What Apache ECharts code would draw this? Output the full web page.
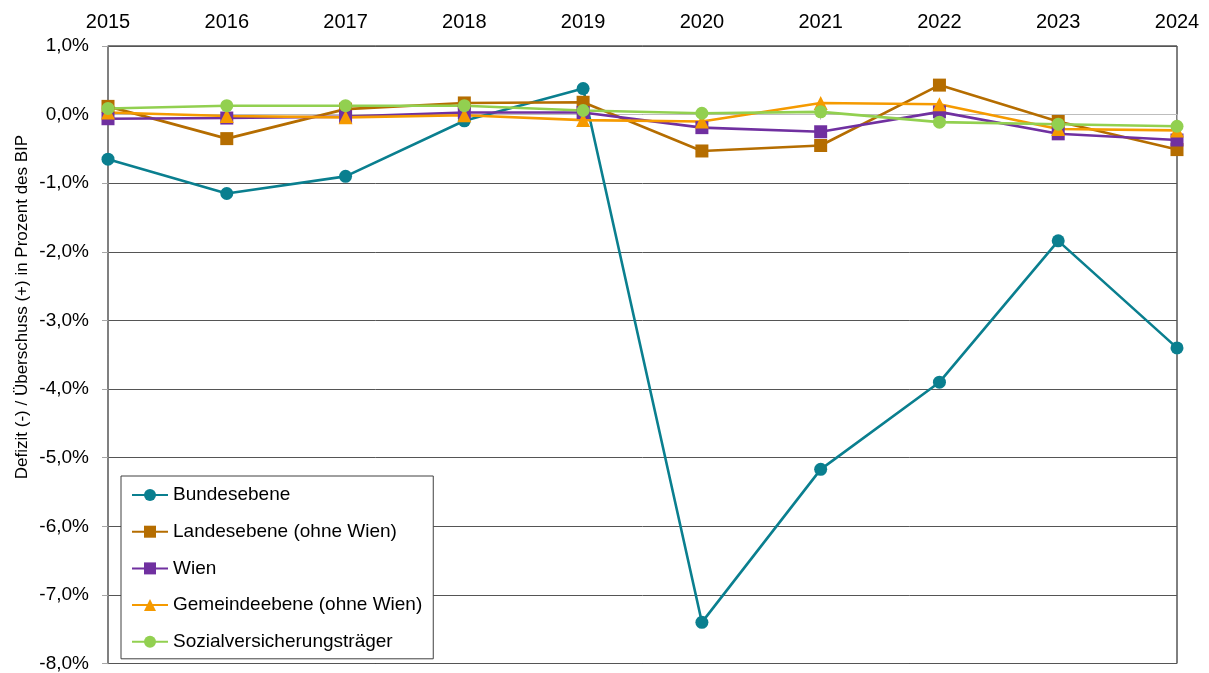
<!DOCTYPE html>
<html>
<head>
<meta charset="utf-8">
<title>Finanzierungssaldo nach Sektoren</title>
<script src="https://cdn.jsdelivr.net/npm/echarts@6/dist/echarts.min.js"></script>
<style>
  html, body { margin: 0; padding: 0; background: #ffffff; }
  #chart { width: 1209px; height: 673px; }
</style>
</head>
<body>
<div id="chart"></div>
<script>
// Jahre (Kategorien)
const years = ['2015', '2016', '2017', '2018', '2019', '2020', '2021', '2022', '2023', '2024'];

// Finanzierungssaldo in % des BIP je Teilsektor
const bundesebene   = [-0.65, -1.15, -0.90, -0.09, 0.38, -7.40, -5.17, -3.90, -1.84, -3.40];
const landesebene   = [0.12, -0.35, 0.08, 0.17, 0.18, -0.53, -0.45, 0.43, -0.10, -0.51];
const wien          = [-0.06, -0.05, -0.03, 0.03, 0.03, -0.19, -0.25, 0.04, -0.28, -0.37];
const gemeindeebene = [0.03, -0.02, -0.04, -0.01, -0.08, -0.10, 0.17, 0.15, -0.21, -0.23];
const sozialvers    = [0.09, 0.13, 0.13, 0.13, 0.06, 0.02, 0.04, -0.11, -0.14, -0.17];

// Y-Achse
const yMin = -8;
const yMax = 1;
const yStep = 1;

const FONT = '"Liberation Sans", Arial, sans-serif';

function pct(v) {
  return v.toFixed(1).replace('.', ',') + '%';
}

function lineSeries(name, data, color, symbol) {
  return {
    name: name,
    type: 'line',
    data: data,
    xAxisIndex: 0,
    symbol: symbol,
    symbolSize: symbol === 'triangle' ? 14 : 13,
    showAllSymbol: true,
    lineStyle: { color: color, width: 2.6 },
    itemStyle: { color: color, borderWidth: 0 },
    emphasis: { disabled: true },
    animation: false
  };
}

const chart = echarts.init(document.getElementById('chart'), null, { renderer: 'canvas' });

chart.setOption({
  backgroundColor: '#ffffff',
  animation: false,
  textStyle: { fontFamily: FONT },
  grid: {
    left: 108,
    right: 32,
    top: 46,
    bottom: 7,
    show: true,
    borderColor: '#000000',
    borderWidth: 1,
    backgroundColor: 'transparent'
  },
  graphic: [{
    type: 'text',
    x: 22,
    y: 307,
    rotation: Math.PI / 2,
    style: {
      text: 'Defizit (-) / Überschuss (+) in Prozent des BIP',
      font: '17px ' + FONT,
      fill: '#000000',
      align: 'center',
      verticalAlign: 'middle'
    }
  }],
  xAxis: [{
    type: 'category',
    data: years,
    position: 'top',
    boundaryGap: false,
    axisLine: { show: false, onZero: false },
    axisTick: { show: false },
    axisLabel: { color: '#000000', fontSize: 20, fontFamily: FONT, margin: 14 },
    splitLine: { show: false }
  }, {
    // Nulllinie mit Teilstrichen
    type: 'category',
    data: years,
    position: 'bottom',
    boundaryGap: false,
    axisLine: { show: true, onZero: true, lineStyle: { color: '#bdbdbd', width: 1 } },
    axisTick: { show: true, length: 5, lineStyle: { color: '#bdbdbd' } },
    axisLabel: { show: false },
    splitLine: { show: false }
  }],
  yAxis: {
    type: 'value',
    min: yMin,
    max: yMax,
    interval: yStep,
    axisLine: { show: true, lineStyle: { color: '#808080', width: 1.5 } },
    axisTick: { show: true, length: 6, lineStyle: { color: '#a6a6a6' } },
    axisLabel: {
      color: '#000000',
      fontSize: 19,
      fontFamily: FONT,
      margin: 19,
      formatter: pct
    },
    splitLine: {
      show: true,
      lineStyle: { color: '#555555', width: 1 }
    }
  },
  legend: {
    orient: 'vertical',
    left: 121,
    top: 476,
    padding: [8, 11, 6, 10],
    itemWidth: 36,
    itemHeight: 15,
    itemGap: 14.7,
    itemTextGap: 3,
    backgroundColor: '#ffffff',
    borderColor: '#404040',
    borderWidth: 1,
    textStyle: { color: '#000000', fontSize: 19, fontFamily: FONT, lineHeight: 22 },
    selectedMode: false,
    data: ['Bundesebene', 'Landesebene (ohne Wien)', 'Wien', 'Gemeindeebene (ohne Wien)', 'Sozialversicherungsträger']
  },
  series: [
    lineSeries('Bundesebene', bundesebene, '#0a7f8f', 'circle'),
    lineSeries('Landesebene (ohne Wien)', landesebene, '#b56d00', 'rect'),
    lineSeries('Wien', wien, '#7030a0', 'rect'),
    lineSeries('Gemeindeebene (ohne Wien)', gemeindeebene, '#f59a00', 'triangle'),
    lineSeries('Sozialversicherungsträger', sozialvers, '#92d050', 'circle')
  ]
});
</script>
</body>
</html>
